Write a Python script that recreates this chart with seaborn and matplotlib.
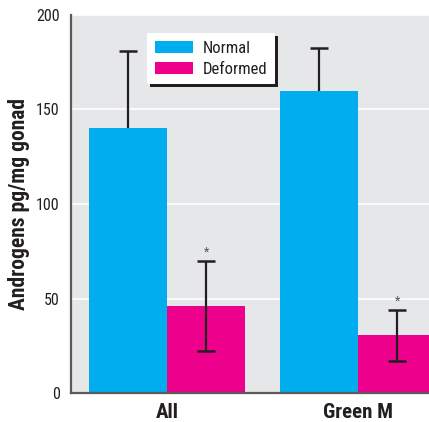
import matplotlib
matplotlib.use("Agg")
import matplotlib.pyplot as plt
import matplotlib.font_manager as fm
import seaborn as sns
import pandas as pd

# data
groups = ["All", "Green M"]
conditions = ["Normal", "Deformed"]
normal_means = [140, 160]
normal_err = [41, 22.5]
deformed_means = [46, 30.5]
deformed_err = [24, 13.5]
significant = [False, False, True, True]  # order: Normal All, Normal Green M, Deformed All, Deformed Green M

colors = {"Normal": "#00AEEF", "Deformed": "#EC008C"}

df = pd.DataFrame({
    "group": groups * 2,
    "condition": ["Normal"] * 2 + ["Deformed"] * 2,
    "value": normal_means + deformed_means,
    "err": normal_err + deformed_err,
})

sns.set_style("white")

# the original uses a condensed grotesque; take the first narrow face installed
names = {f.name for f in fm.fontManager.ttflist}
wanted = ["Roboto Condensed", "Liberation Sans Narrow", "Arial Narrow", "Archivo Narrow",
          "PT Sans Narrow", "Fira Sans Condensed", "IBM Plex Sans Condensed",
          "Barlow Semi Condensed", "Encode Sans Condensed", "Asap Condensed",
          "Open Sans Condensed", "Pragati Narrow", "Saira Semi Condensed", "Barlow Condensed"]
family = next((n for n in wanted if n in names), "DejaVu Sans")
plt.rcParams["font.family"] = [family, "DejaVu Sans"]

fig = plt.figure(figsize=(4.29, 4.22), dpi=100)
ax = fig.add_axes([0.165, 0.0687, 0.835, 0.8958])
ax.set_facecolor("#E6E7E8")

sns.barplot(data=df, x="group", y="value", hue="condition", hue_order=conditions,
            palette=colors, width=0.82, gap=0, saturation=1, errorbar=None,
            edgecolor="none", linewidth=0, ax=ax, legend=True, zorder=2)

# error bars at the bar centres seaborn computed
ink = "#231F20"
for bar, (_, row), star in zip(ax.patches, df.iterrows(), significant):
    xc = bar.get_x() + bar.get_width() / 2
    top = bar.get_height()
    hi = top + row["err"]
    lo = top if row["condition"] == "Normal" else top - row["err"]
    ax.vlines(xc, lo, hi, color=ink, linewidth=1.6, zorder=3)
    ax.hlines(hi, xc - 0.047, xc + 0.047, color=ink, linewidth=1.8, zorder=3)
    if row["condition"] != "Normal":
        ax.hlines(lo, xc - 0.047, xc + 0.047, color=ink, linewidth=1.8, zorder=3)
    if star:
        ax.text(xc, hi + 1.2, "*", ha="center", va="bottom",
                fontsize=9, color="#555555", zorder=4)

ax.set_ylim(0, 200)
ax.set_xlim(-0.504, 1.37)
ax.set_yticks([0, 50, 100, 150, 200])
ax.yaxis.grid(True, color="white", linewidth=1.2, zorder=0)
ax.set_axisbelow(True)
ax.tick_params(axis="both", length=0)
ax.tick_params(axis="y", labelsize=11.5, pad=8, colors=ink)
ax.tick_params(axis="x", labelsize=15, pad=7, colors=ink)
for lab in ax.get_xticklabels():
    lab.set_fontweight("bold")

for side in ["top", "right"]:
    ax.spines[side].set_visible(False)
for side in ["left", "bottom"]:
    ax.spines[side].set_color("#5A5A5A")
    ax.spines[side].set_linewidth(1.6)

ax.set_xlabel("")
ax.set_ylabel("Androgens pg/mg gonad", fontsize=15.5, fontweight="bold",
              color=ink, labelpad=4)

leg = ax.legend(loc="upper left", bbox_to_anchor=(0.213, 0.952), borderaxespad=0,
                frameon=True, fancybox=False, shadow={"color": ink, "alpha": 1},
                fontsize=12, handlelength=2.3, handleheight=0.8, handletextpad=0.6,
                labelspacing=0.35, borderpad=0.45, title=None)
leg.get_frame().set_facecolor("white")
leg.get_frame().set_edgecolor("white")
leg.get_frame().set_linewidth(0)
for t in leg.get_texts():
    t.set_color(ink)

fig.savefig("out.png", dpi=100)
